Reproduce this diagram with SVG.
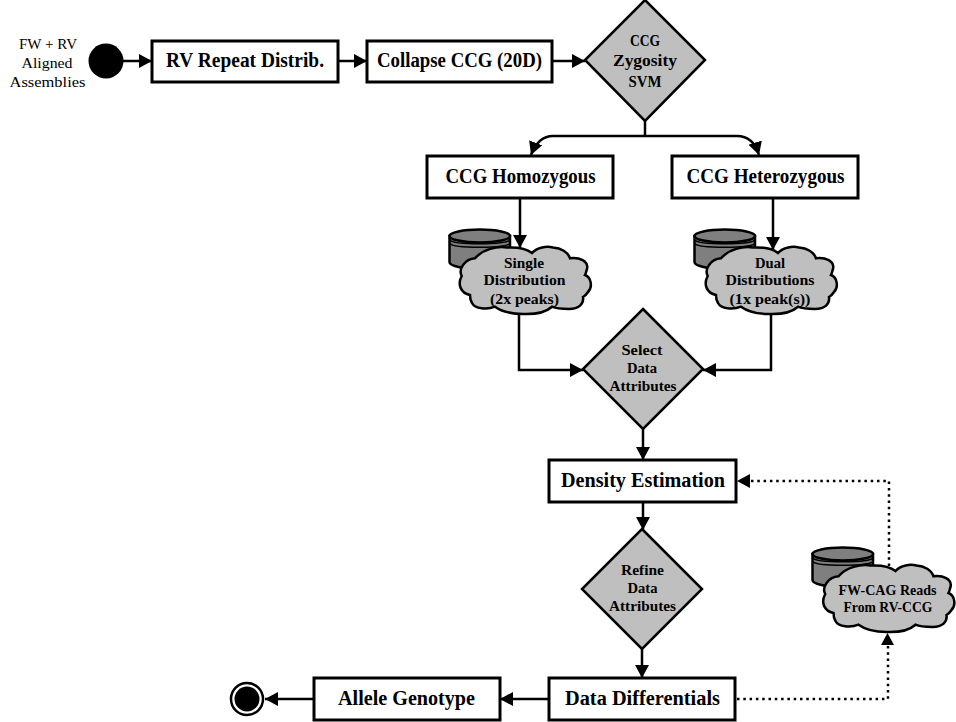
<svg xmlns="http://www.w3.org/2000/svg" xmlns:xlink="http://www.w3.org/1999/xlink" width="956" height="722" viewBox="0 0 956 722">
<style>
text{font-family:"Liberation Serif","Times New Roman",serif;font-weight:bold;fill:#000;text-anchor:middle}
.box{fill:#fff;stroke:#000;stroke-width:3}
.dia{fill:#bfbfbf;stroke:#000;stroke-width:2.5}
.t{font-size:20px}
.d{font-size:16px}
.c{font-size:15.5px}
.lab{font-weight:normal;font-size:15px}
.ln{fill:none;stroke:#000;stroke-width:2.5}
.dot{fill:none;stroke:#000;stroke-width:2.5;stroke-dasharray:2.5 3.8}
</style>
<defs>
<marker id="a" markerUnits="userSpaceOnUse" markerWidth="14" markerHeight="14" refX="13" refY="7" orient="auto" viewBox="0 0 14 14"><path d="M0 0L13 7L0 14Z" fill="#000"/></marker>
<g id="cyl">
<path d="M1.5 8V34C1.5 38 15 41 32 41S62 38 62 34V8Z" fill="#7f7f7f" stroke="#000" stroke-width="2.5"/>
<ellipse cx="31.8" cy="8" rx="30.3" ry="6.5" fill="#7f7f7f" stroke="#000" stroke-width="2.5"/>
<path d="M1.5 12C6 17 58 17 62 12M1.5 15.5C6 20.5 58 20.5 62 15.5" fill="none" stroke="#000" stroke-width="1.5"/>
</g>
<path id="cloud" d="M13 48C4 46 0 38 4.700 29C1 22 8 12 18 11.300C26 2 40 -1 50 .5C60 0 70 2 75 6C80 0 90 -1 96 .5C104 1 111 5 113 11.300C122 10 132 14 130 22C129 25 129 26 128 28C134 30 136 40 131 45C129 48 128 49 126 50C127 57 122 62 112 62C106 62 100 62 95 59.700C88 66 78 67.500 66 67C54 67 44 64 38 59.700C30 63 18 62 15 56C13 53 13 51 13 48Z" fill="#bfbfbf" stroke="#000" stroke-width="2.5"/>
</defs>
<g id="connectors">
<path class="ln" d="M123 61H152" marker-end="url(#a)"/>
<path class="ln" d="M338 61H367" marker-end="url(#a)"/>
<path class="ln" d="M552 61H585" marker-end="url(#a)"/>
<path class="ln" d="M645 121V136"/>
<path class="ln" d="M645 136H553C544 136 536 142 531 155" marker-end="url(#a)"/>
<path class="ln" d="M645 136H737C747 136 755 142 759 155" marker-end="url(#a)"/>
<path class="ln" d="M520 198V248" marker-end="url(#a)"/>
<path class="ln" d="M773 198V250" marker-end="url(#a)"/>
<path class="ln" d="M519 312V370H583" marker-end="url(#a)"/>
<path class="ln" d="M771 312V370H703" marker-end="url(#a)"/>
<path class="ln" d="M643 429V460" marker-end="url(#a)"/>
<path class="ln" d="M643 502V530" marker-end="url(#a)"/>
<path class="ln" d="M642 649V678" marker-end="url(#a)"/>
<path class="ln" d="M549 699H500" marker-end="url(#a)"/>
<path class="ln" d="M314 699H265" marker-end="url(#a)"/>
<path class="dot" d="M737 699H888V646"/>
<path d="M881 645H894L887.500 633Z" fill="#000"/>
<path class="dot" d="M889 566V481H750"/>
<path d="M750 474V488L737 481Z" fill="#000"/>
</g>
<g id="start"><circle cx="106" cy="61" r="17.5" fill="#000"/>
<text class="lab" x="48" y="49" textLength="58" lengthAdjust="spacingAndGlyphs">FW + RV</text><text class="lab" x="47" y="68" textLength="51" lengthAdjust="spacingAndGlyphs">Aligned</text><text class="lab" x="47.500" y="87" textLength="76" lengthAdjust="spacingAndGlyphs">Assemblies</text></g>
<g id="rv-repeat"><rect class="box" x="152" y="41" width="186" height="41"/><text class="t" x="245" y="67" textLength="158" lengthAdjust="spacingAndGlyphs">RV Repeat Distrib.</text></g>
<g id="collapse"><rect class="box" x="367" y="41" width="185" height="41"/><text class="t" x="459.500" y="67" textLength="165" lengthAdjust="spacingAndGlyphs">Collapse CCG (20D)</text></g>
<g id="zygosity"><path class="dia" d="M645 0L705 60L645 121L585 60Z"/><text class="d" x="645" y="46" textLength="30" lengthAdjust="spacingAndGlyphs">CCG</text><text class="d" x="645" y="66" textLength="64" lengthAdjust="spacingAndGlyphs">Zygosity</text><text class="d" x="645" y="87" textLength="33" lengthAdjust="spacingAndGlyphs">SVM</text></g>
<g id="homo"><rect class="box" x="427" y="156" width="186" height="42"/><text class="t" x="520.500" y="183" textLength="150" lengthAdjust="spacingAndGlyphs">CCG Homozygous</text></g>
<g id="hetero"><rect class="box" x="672" y="156" width="186" height="42"/><text class="t" x="765.500" y="183" textLength="158" lengthAdjust="spacingAndGlyphs">CCG Heterozygous</text></g>
<g id="single"><use href="#cyl" xlink:href="#cyl" x="448" y="228"/><use href="#cloud" xlink:href="#cloud" x="457" y="247"/><text class="c" x="524" y="268" textLength="40" lengthAdjust="spacingAndGlyphs">Single</text><text class="c" x="524.500" y="285" textLength="82" lengthAdjust="spacingAndGlyphs">Distribution</text><text class="c" x="524.500" y="304" textLength="69" lengthAdjust="spacingAndGlyphs">(2x peaks)</text></g>
<g id="dual"><use href="#cyl" xlink:href="#cyl" x="693" y="228"/><use href="#cloud" xlink:href="#cloud" x="703" y="247"/><text class="c" x="770" y="268" textLength="30" lengthAdjust="spacingAndGlyphs">Dual</text><text class="c" x="770" y="285" textLength="89" lengthAdjust="spacingAndGlyphs">Distributions</text><text class="c" x="770" y="304" textLength="81" lengthAdjust="spacingAndGlyphs">(1x peak(s))</text></g>
<g id="select"><path class="dia" d="M643 309L703 369L643 429L583 369Z"/><text class="c" x="642" y="355" textLength="41" lengthAdjust="spacingAndGlyphs">Select</text><text class="c" x="642" y="373" textLength="30" lengthAdjust="spacingAndGlyphs">Data</text><text class="c" x="643" y="391" textLength="67" lengthAdjust="spacingAndGlyphs">Attributes</text></g>
<g id="density"><rect class="box" x="549" y="460" width="187" height="42"/><text class="t" x="643" y="487" textLength="164" lengthAdjust="spacingAndGlyphs">Density Estimation</text></g>
<g id="refine"><path class="dia" d="M642 529L702 589L642 649L582 589Z"/><text class="c" x="642.500" y="575" textLength="43" lengthAdjust="spacingAndGlyphs">Refine</text><text class="c" x="642.500" y="593" textLength="30" lengthAdjust="spacingAndGlyphs">Data</text><text class="c" x="642.500" y="611" textLength="67" lengthAdjust="spacingAndGlyphs">Attributes</text></g>
<g id="fwcag"><use href="#cyl" xlink:href="#cyl" x="811" y="546"/><use href="#cloud" xlink:href="#cloud" x="820.500" y="565"/><text class="c" x="887.500" y="595" textLength="98" lengthAdjust="spacingAndGlyphs">FW-CAG Reads</text><text class="c" x="888" y="612" textLength="89" lengthAdjust="spacingAndGlyphs">From RV-CCG</text></g>
<g id="diff"><rect class="box" x="549" y="678" width="186" height="42"/><text class="t" x="642.500" y="705" textLength="155" lengthAdjust="spacingAndGlyphs">Data Differentials</text></g>
<g id="allele"><rect class="box" x="314" y="678" width="186" height="42"/><text class="t" x="406.500" y="705" textLength="137" lengthAdjust="spacingAndGlyphs">Allele Genotype</text></g>
<g id="end"><circle cx="247" cy="699" r="16" fill="#fff" stroke="#000" stroke-width="2.5"/><circle cx="247" cy="699" r="12.500" fill="#000"/></g>
</svg>
